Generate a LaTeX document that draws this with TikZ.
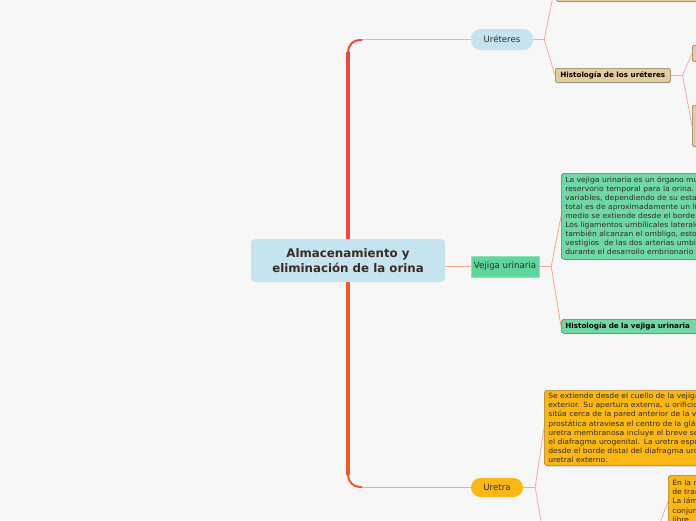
\documentclass[tikz,border=0pt]{standalone}
\usepackage{fontspec}
\setmainfont{DejaVu Sans}
\newfontfamily\bodyfont[FakeStretch=1.06]{DejaVu Sans}
\usetikzlibrary{calc,shadows}
\definecolor{bg}{HTML}{F7F7F7}
\definecolor{blueL}{HTML}{C6E4EF}
\definecolor{centerTxt}{HTML}{3A2A22}
\definecolor{greenN}{HTML}{5FD69B}
\definecolor{greenB}{HTML}{70D8A4}
\definecolor{tanF}{HTML}{E3CCA0}
\definecolor{tanD}{HTML}{8C7A5A}
\definecolor{orangeN}{HTML}{FBB714}
\definecolor{orangeD}{HTML}{A67C2A}
\definecolor{greyD}{HTML}{707070}
\definecolor{redTop}{HTML}{EC4A40}
\definecolor{redBot}{HTML}{F05A2B}
\definecolor{pinkC}{HTML}{F6ABA4}
\definecolor{orangeC}{HTML}{F7A589}
\definecolor{txtD}{HTML}{2E2A26}
\tikzset{
  conn/.style={draw=pinkC, line width=0.8},
  connV/.style={draw=orangeC, line width=0.8},
  cbox/.style={fill=blueL, rounded corners=4, minimum width=194, minimum height=43, align=center, text=centerTxt, font=\fontsize{11.8}{14.5}\selectfont\bfseries},
  pill/.style={rounded corners=9.5, font=\fontsize{8.6}{10}\selectfont, text=txtD, inner sep=0},
  vnode/.style={fill=greenN, draw=greenN!70!white, line width=0.5, minimum width=68, minimum height=21, font=\fontsize{8.6}{10}\selectfont, text=txtD, inner sep=0},
  shad/.style={drop shadow={shadow xshift=0.6pt, shadow yshift=-0.8pt, opacity=0.25, fill=black}},
  tanbox/.style={fill=tanF, draw=tanD, line width=0.6, rounded corners=2, shad},
  greenbox/.style={fill=greenB, draw=greyD, line width=0.6, rounded corners=3, shad},
  orangebox/.style={fill=orangeN, draw=orangeD, line width=0.6, rounded corners=3, shad},
  boldlab/.style={font=\fontsize{7.2}{8}\selectfont\bfseries, text=black},
  bodytxt/.style={font=\bodyfont\fontsize{7.2}{9.1}\selectfont, text=txtD, align=left, inner xsep=4, inner ysep=3}
}
\begin{document}
\begin{tikzpicture}[x=1pt,y=-1pt]
\useasboundingbox (0,0) rectangle (696,520);
\fill[bg] (0,0) rectangle (696,520);
\clip (0,0) rectangle (696,520);

% nodes
\node[cbox] (center) at (348,260.5) {Almacenamiento y\\eliminación de la orina};
\node[pill, fill=blueL, minimum width=62, minimum height=21] (ureteres) at (502,39.5) {Uréteres};
\node[vnode] (vejiga) at (505,266.5) {Vejiga urinaria};
\node[pill, fill=orangeN, minimum width=52, minimum height=19] (uretra) at (497,487.5) {Uretra};

\node[tanbox, anchor=north west, minimum width=200, minimum height=40] (topU) at (556,-39) {};
\node[tanbox, boldlab, anchor=north west, minimum width=115, minimum height=14, inner sep=0] (histU) at (555,68) {Histología de los uréteres};
\node[tanbox, anchor=north west, minimum width=60, minimum height=16] (ub1) at (692,45) {};
\node[tanbox, anchor=north west, minimum width=60, minimum height=41] (ub2) at (692,105) {};

\node[greenbox, bodytxt, anchor=north west, text width=192, minimum height=86] (vtext) at (561,173) {La vejiga urinaria es un órgano mu\\reservorio temporal para la orina. L\\variables, dependiendo de su estad\\total es de aproximadamente un lit\\medio se extiende desde el borde a\\Los ligamentos umbilicales laterale\\también alcanzan el ombligo, estos\\vestigios\ \ de las dos arterias umbil\\durante el desarrollo embrionario y};
\node[greenbox, boldlab, anchor=north west, text width=192, minimum height=14, inner xsep=4, inner ysep=0, align=left] (histV) at (561,319) {Histología de la vejiga urinaria};

\node[orangebox, bodytxt, anchor=north west, text width=192, minimum height=75] (utext) at (544,390) {Se extiende desde el cuello de la vejiga\\exterior. Su apertura externa, u orificio\\sitúa cerca de la pared anterior de la va\\prostática atraviesa el centro de la glán\\uretra membranosa incluye el breve se\\el diafragma urogenital. La uretra espo\\desde el borde distal del diafragma uro\\uretral externo.};
\node[orangebox, bodytxt, anchor=north west, text width=52, minimum height=52] (ubox2) at (668,475) {En la m\\de tran\\La lám\\conjun\\libre};

% branch points
\coordinate (bU) at ($(ureteres.east)+(11,0)$);
\coordinate (bH) at ($(histU.east)+(12,0)$);
\coordinate (bV) at ($(vejiga.east)+(12,0)$);
\coordinate (bR) at ($(uretra.east)+(12,0)$);
\coordinate (uOff) at (548,560);
\coordinate (ubOff) at (652,545);

% bracket
\draw[conn, rounded corners=12] (center.north) |- (ureteres.west);
\draw[line width=3.5, redTop] (center.north) -- (348,52);
\draw[line width=2, redTop, rounded corners=12] (348,60) |- (362,40);
\draw[conn, draw=orangeC!80!pinkC, rounded corners=12] (center.south) |- (uretra.west);
\draw[line width=3.5, redBot] (center.south) -- (348,475);
\draw[line width=2, redBot, rounded corners=12] (348,467) |- (362,487);

% connectors
\draw[connV] (center.east |- vejiga.west) -- (vejiga.west);
\draw[conn] (ureteres.east) -- (bU);
\draw[conn] (bU) -- (topU.west);
\draw[conn] (bU) -- (histU.west);
\draw[conn] (histU.east) -- (bH);
\draw[conn] (bH) -- (ub1.west);
\draw[conn] (bH) -- (ub2.west);
\draw[connV] (vejiga.east) -- (bV);
\draw[connV] (bV) -- (vtext.west);
\draw[connV] (bV) -- (histV.west);
\draw[connV] (uretra.east) -- (bR);
\draw[conn] (bR) -- (utext.west);
\draw[conn] (bR) -- (uOff);
\draw[conn] (ubOff) -- (ubox2.west);
\end{tikzpicture}
\end{document}
